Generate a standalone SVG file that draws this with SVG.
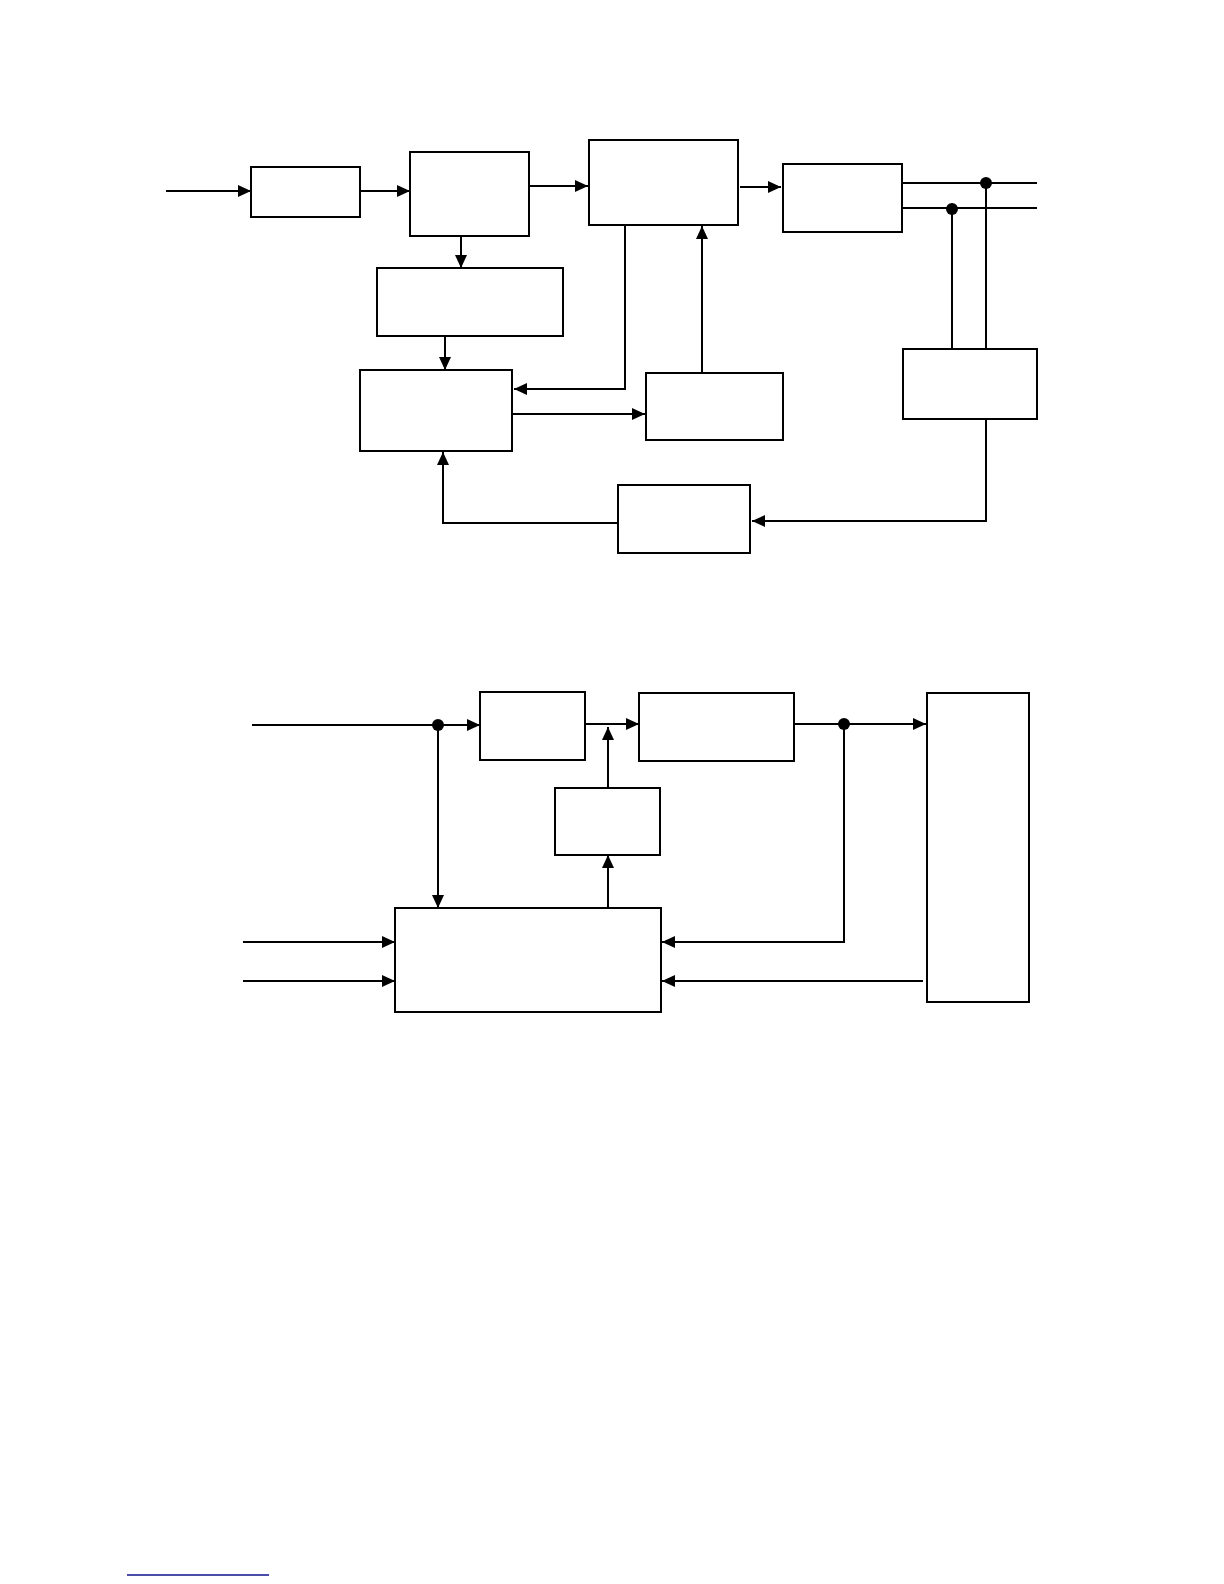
<svg xmlns="http://www.w3.org/2000/svg" width="1224" height="1584" viewBox="0 0 1224 1584">
<style>
.box{fill:#fff;stroke:#000;stroke-width:2}
.ln{fill:none;stroke:#000;stroke-width:2}
.dot{fill:#000}
</style>
<defs>
<marker id="ah" markerUnits="userSpaceOnUse" markerWidth="14" markerHeight="13" refX="13" refY="6" orient="auto">
<path d="M0,0 L13,6 L0,12 z" fill="#000"/>
</marker>
</defs>
<rect width="1224" height="1584" fill="#fff"/>
<g id="top">
<g id="nodeA"><rect class="box" x="251" y="167" width="109" height="50"/></g>
<g id="nodeB"><rect class="box" x="410" y="152" width="119" height="84"/></g>
<g id="nodeC"><rect class="box" x="589" y="140" width="149" height="85"/></g>
<g id="nodeD"><rect class="box" x="377" y="268" width="186" height="68"/></g>
<g id="nodeE"><rect class="box" x="783" y="164" width="119" height="68"/></g>
<g id="nodeF"><rect class="box" x="903" y="349" width="134" height="70"/></g>
<g id="nodeG"><rect class="box" x="360" y="370" width="152" height="81"/></g>
<g id="nodeH"><rect class="box" x="646" y="373" width="137" height="67"/></g>
<g id="nodeI"><rect class="box" x="618" y="485" width="132" height="68"/></g>
</g>
<g id="bottom">
<g id="nodeJ"><rect class="box" x="480" y="692" width="105" height="68"/></g>
<g id="nodeK"><rect class="box" x="639" y="693" width="155" height="68"/></g>
<g id="nodeL"><rect class="box" x="555" y="788" width="105" height="67"/></g>
<g id="nodeM"><rect class="box" x="395" y="908" width="266" height="104"/></g>
<g id="nodeN"><rect class="box" x="927" y="693" width="102" height="309"/></g>
</g>
<g id="connectors">
<line class="ln" x1="166" y1="191" x2="251" y2="191" marker-end="url(#ah)"/>
<line class="ln" x1="360" y1="191" x2="410" y2="191" marker-end="url(#ah)"/>
<line class="ln" x1="529" y1="186" x2="588" y2="186" marker-end="url(#ah)"/>
<line class="ln" x1="740" y1="187" x2="781" y2="187" marker-end="url(#ah)"/>
<line class="ln" x1="461" y1="236" x2="461" y2="268" marker-end="url(#ah)"/>
<line class="ln" x1="445" y1="336" x2="445" y2="370" marker-end="url(#ah)"/>
<polyline class="ln" points="625,225 625,389 514,389" marker-end="url(#ah)"/>
<line class="ln" x1="512" y1="414" x2="645" y2="414" marker-end="url(#ah)"/>
<line class="ln" x1="702" y1="373" x2="702" y2="226" marker-end="url(#ah)"/>
<polyline class="ln" points="618,523 443,523 443,452" marker-end="url(#ah)"/>
<polyline class="ln" points="986,419 986,521 752,521" marker-end="url(#ah)"/>
<line class="ln" x1="902" y1="183" x2="1037" y2="183"/>
<line class="ln" x1="902" y1="208" x2="1037" y2="208"/>
<line class="ln" x1="986" y1="183" x2="986" y2="349"/>
<line class="ln" x1="952" y1="208" x2="952" y2="349"/>
<circle class="dot" cx="986" cy="183" r="6"/>
<circle class="dot" cx="952" cy="209" r="6"/>

<line class="ln" x1="252" y1="725" x2="480" y2="725" marker-end="url(#ah)"/>
<circle class="dot" cx="438" cy="725" r="6"/>
<line class="ln" x1="438" y1="725" x2="438" y2="908" marker-end="url(#ah)"/>
<line class="ln" x1="585" y1="724" x2="639" y2="724" marker-end="url(#ah)"/>
<line class="ln" x1="608" y1="788" x2="608" y2="727" marker-end="url(#ah)"/>
<line class="ln" x1="608" y1="908" x2="608" y2="855" marker-end="url(#ah)"/>
<line class="ln" x1="794" y1="724" x2="926" y2="724" marker-end="url(#ah)"/>
<circle class="dot" cx="844" cy="724" r="6"/>
<polyline class="ln" points="844,724 844,942 662,942" marker-end="url(#ah)"/>
<line class="ln" x1="923" y1="981" x2="662" y2="981" marker-end="url(#ah)"/>
<line class="ln" x1="243" y1="942" x2="395" y2="942" marker-end="url(#ah)"/>
<line class="ln" x1="243" y1="981" x2="395" y2="981" marker-end="url(#ah)"/>
</g>
<line x1="127" y1="1575" x2="269" y2="1575" stroke="#10108c" stroke-width="1.5"/>
</svg>
